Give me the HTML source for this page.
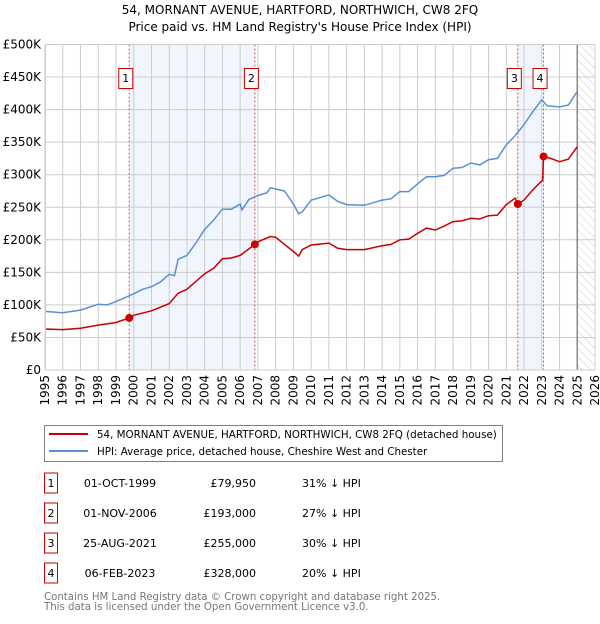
<!DOCTYPE html>
<html><head><meta charset="utf-8"><style>
body{margin:0;background:#fff;font-family:"DejaVu Sans","Liberation Sans",sans-serif;}
svg text{font-family:"DejaVu Sans","Liberation Sans",sans-serif;}
</style></head><body>
<svg id="c" width="600" height="620" xmlns="http://www.w3.org/2000/svg">
<defs><pattern id="hatch" width="6" height="6" patternUnits="userSpaceOnUse" patternTransform="rotate(-45)"><line x1="0" y1="0" x2="0" y2="6" stroke="#ccc" stroke-width="1"/></pattern></defs>
<text x="300" y="14" text-anchor="middle" font-size="12">54, MORNANT AVENUE, HARTFORD, NORTHWICH, CW8 2FQ</text>
<text x="300" y="31" text-anchor="middle" font-size="12">Price paid vs. HM Land Registry's House Price Index (HPI)</text>
<g id="plot"></g>
<g>
<rect x="44.5" y="425.5" width="458" height="36" fill="#fff" stroke="#808080"/>
<line x1="49" y1="434" x2="88" y2="434" stroke="#cc0000" stroke-width="2"/>
<text x="97" y="438" font-size="10.3">54, MORNANT AVENUE, HARTFORD, NORTHWICH, CW8 2FQ (detached house)</text>
<line x1="49" y1="451" x2="88" y2="451" stroke="#5b8fd4" stroke-width="2"/>
<text x="97" y="455" font-size="10.3">HPI: Average price, detached house, Cheshire West and Chester</text>
</g>
<g id="table" font-size="11"></g>
<text x="44" y="600" font-size="10.2" fill="#777">Contains HM Land Registry data © Crown copyright and database right 2025.</text>
<text x="44" y="610" font-size="10.2" fill="#777">This data is licensed under the Open Government Licence v3.0.</text>
</svg>
<script>
const hpiYears=[1995,1996,1997,1998,1998.5,1999,1999.5,2000,2000.5,2001,2001.5,2002,2002.3,2002.5,2003,2003.5,2004,2004.5,2005,2005.5,2006,2006.1,2006.5,2007,2007.5,2007.7,2008,2008.5,2009,2009.3,2009.5,2010,2011,2011.5,2012,2013,2014,2014.5,2015,2015.5,2016,2016.5,2017,2017.5,2018,2018.5,2019,2019.5,2020,2020.5,2021,2021.5,2022,2022.5,2023,2023.3,2024,2024.5,2025];
const hpiValues=[90,88,92,101,100,105,111,117,124,128,135,147,145,170,176,195,216,230,247,247,255,246,262,268,272,280,278,275,255,240,243,261,269,259,254,253,261,263,274,274,286,297,297,299,310,311,318,315,323,325,346,360,377,397,415,406,404,407,428];
const ppYears=[1995,1996,1997,1998,1999,1999.75,2000,2001,2002,2002.5,2003,2004,2004.5,2005,2005.5,2006,2006.83,2007,2007.7,2008,2008.5,2009,2009.3,2009.5,2010,2011,2011.5,2012,2013,2014,2014.5,2015,2015.5,2016,2016.5,2017,2017.5,2018,2018.5,2019,2019.5,2020,2020.5,2021,2021.5,2021.65,2022,2022.5,2023.05,2023.1,2023.5,2024,2024.5,2025];
const ppValues=[63,62,64,69,73,80,84,91,102,118,124,148,156,171,172,176,193,197,205,204,193,182,175,185,192,195,187,185,185,191,193,200,201,210,218,215,221,228,229,233,232,237,238,254,264,255,261,277,292,328,325,320,324,343];
const saleLabels=["1","2","3","4"];
const saleYears=[1999.75,2006.83,2021.65,2023.1];
const saleValues=[79.95,193,255,328];
const saleDates=["01-OCT-1999","01-NOV-2006","25-AUG-2021","06-FEB-2023"];
const salePrices=["£79,950","£193,000","£255,000","£328,000"];
const saleDiffs=["31% ↓ HPI","27% ↓ HPI","30% ↓ HPI","20% ↓ HPI"];
const yTicks=[0,50,100,150,200,250,300,350,400,450,500];
const yTickLabels=["£0","£50K","£100K","£150K","£200K","£250K","£300K","£350K","£400K","£450K","£500K"];

const NS="http://www.w3.org/2000/svg";
const L=45,R=595,T=44.5,B=370,Y0=1995,Y1=2026;
const X=y=>L+(y-Y0)/(Y1-Y0)*(R-L);
const Y=v=>B-v/500*(B-T);
const plot=document.getElementById('plot');
function mk(tag,attrs,parent){const e=document.createElementNS(NS,tag);for(const k in attrs)e.setAttribute(k,attrs[k]);(parent||plot).appendChild(e);return e;}
let s1=mk('rect',{x:X(saleYears[0]),y:T,width:X(saleYears[1])-X(saleYears[0]),height:B-T,fill:'#eef3fc',opacity:0.8});


let s2=mk('rect',{x:X(saleYears[2]),y:T,width:X(saleYears[3])-X(saleYears[2]),height:B-T,fill:'#eef3fc',opacity:0.8});


let ht=mk('rect',{x:X(2025),y:T,width:R-X(2025),height:B-T,fill:'url(#hatch)'});


for(let yr=Y0;yr<=Y1;yr++){
 mk('line',{x1:X(yr),y1:T,x2:X(yr),y2:B,stroke:'#ccc','stroke-width':1});
 let t=mk('text',{x:0,y:0,'font-size':12,'text-anchor':'end',transform:`translate(${X(yr)+4},${B+5}) rotate(-90)`});
 t.textContent=yr;
 
 
}
yTicks.forEach((v,i)=>{
 mk('line',{x1:L,y1:Y(v),x2:R,y2:Y(v),stroke:'#ccc','stroke-width':1});
 let t=mk('text',{x:L-4,y:Y(v)+4,'font-size':12,'text-anchor':'end'});
 t.textContent=yTickLabels[i];
 
 
});
mk('line',{x1:X(2025),y1:T,x2:X(2025),y2:B,stroke:'#888','stroke-width':1.5});
saleYears.forEach((yr,i)=>{
 mk('line',{x1:X(yr),y1:T,x2:X(yr),y2:B,stroke:'#e05050','stroke-width':1,'stroke-dasharray':'2,2'});
});
function line(xs,vs,col,name){
 const p=mk('polyline',{points:xs.map((x,i)=>X(x).toFixed(1)+','+Y(vs[i]).toFixed(1)).join(' '),fill:'none',stroke:col,'stroke-width':1.5});
 
 
}
line(hpiYears,hpiValues,'#5b8fd4','hpi-line');
line(ppYears,ppValues,'#cc0000','price-paid-line');
saleYears.forEach((yr,i)=>{
 const c=mk('circle',{cx:X(yr),cy:Y(saleValues[i]),r:4,fill:'#cc0000'});
 
 
 const g=mk('g',{});
 
 
 mk('rect',{x:X(yr)-10.5,y:68.5,width:14,height:20,fill:'#fff',stroke:'#cc0000'},g);
 const t=mk('text',{x:X(yr)-3.5,y:82,'font-size':11,'text-anchor':'middle'},g);
 t.textContent=saleLabels[i];
});
mk('rect',{x:L+0.5,y:T,width:R-L-0.5,height:B-T,fill:'none',stroke:'#ccc'});
const tb=document.getElementById('table');
saleLabels.forEach((lb,i)=>{
 const cy=483+i*30;
 const g=mk('g',{},tb);
 
 
 mk('rect',{x:44.5,y:cy-10,width:13,height:20,fill:'#fff',stroke:'#cc0000'},g);
 let t=mk('text',{x:51,y:cy+4,'text-anchor':'middle'},g);t.textContent=lb;
 t=mk('text',{x:120,y:cy+4,'text-anchor':'middle'},g);t.textContent=saleDates[i];
 t=mk('text',{x:256,y:cy+4,'text-anchor':'end'},g);t.textContent=salePrices[i];
 t=mk('text',{x:302,y:cy+4},g);t.textContent=saleDiffs[i];
});
</script>
</body></html>
